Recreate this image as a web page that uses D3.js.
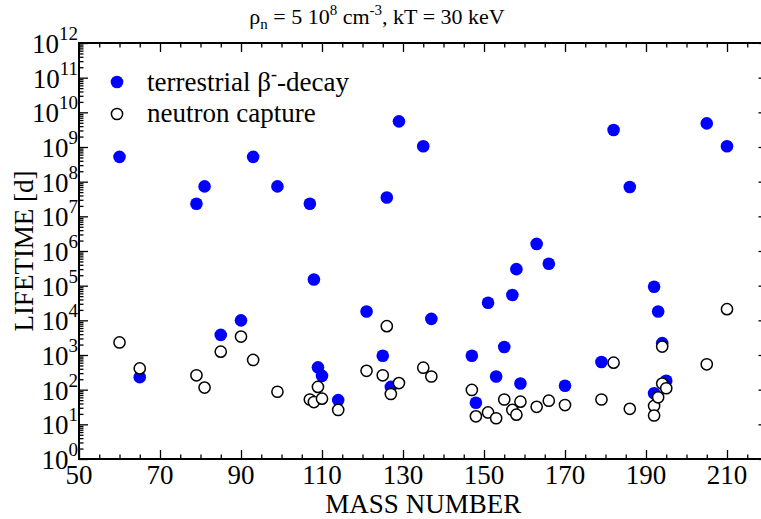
<!DOCTYPE html>
<html>
<head>
<meta charset="utf-8">
<script src="https://cdn.jsdelivr.net/npm/d3@7"></script>
<style>
  body { margin: 0; background: #fff; }
  svg { display: block; font-family: "Liberation Serif", "DejaVu Serif", serif; }
</style>
</head>
<body>
<div id="chart"></div>
<script>
// terrestrial beta- decay lifetimes [d]
var betaMass = [60, 65, 79, 81, 85, 90, 93, 99, 107, 108, 109, 110, 114, 121, 125, 126, 127, 129, 135, 137,
  147, 148, 151, 153, 155, 157, 158, 159, 163, 166, 170, 179, 182, 186, 192, 192, 193, 194, 195, 205, 210];
var betaLife = [5.2e8, 2.3e2, 2.3e7, 7.3e7, 3.8e3, 1.0e4, 5.2e8, 7.3e7, 2.3e7, 1.5e5, 4.4e2, 2.5e2, 50, 1.8e4, 9.5e2, 3.5e7, 1.2e2, 5.5e9, 1.05e9, 1.1e4,
  9.5e2, 42, 3.2e4, 2.4e2, 1.7e3, 5.4e4, 3.0e5, 1.5e2, 1.6e6, 4.3e5, 1.3e2, 6.3e2, 3.1e9, 7.0e7, 9.3e4, 79, 1.8e4, 2.2e3, 1.8e2, 4.8e9, 1.05e9];

// neutron capture lifetimes [d]
var capMass = [60, 65, 79, 81, 85, 90, 93, 99, 107, 108, 109, 110, 114, 121, 125, 126, 127, 129, 135, 137,
  147, 148, 151, 153, 155, 157, 158, 159, 163, 166, 170, 179, 182, 186, 192, 192, 193, 194, 195, 194, 205, 210];
var capLife = [2.3e3, 4.1e2, 2.6e2, 1.15e2, 1.25e3, 3.4e3, 7.2e2, 87, 52, 44, 1.2e2, 55, 26, 3.5e2, 2.6e2, 6.8e3, 75, 1.55e2, 4.3e2, 2.4e2,
  98, 17, 22, 15, 52, 26, 19, 45, 32, 48, 36, 52, 6.0e2, 28, 34, 18, 60, 1.5e2, 1.1e2, 1.75e3, 5.4e2, 2.1e4];

var xMajor = [50, 70, 90, 110, 130, 150, 170, 190, 210];
var decades = d3.range(0, 13);

var width = 761, height = 519;
var margin = {top: 43, left: 79, bottom: 60};

var svg = d3.select("#chart").append("svg")
  .attr("width", width)
  .attr("height", height);

var x = d3.scaleLinear().domain([50, 220]).range([margin.left, margin.left + 170 * 4.05]);
var y = d3.scaleLog().domain([1, 1e12]).range([height - margin.bottom, margin.top]);

var x0 = x.range()[0], x1 = x.range()[1];
var y0 = y.range()[0], y1 = y.range()[1];

var xMinor = d3.range(50, 221, 5).filter(function(v) { return (v - 50) % 20 !== 0; });
var yMinor = [];
decades.slice(0, 12).forEach(function(n) {
  for (var k = 2; k < 10; k++) yMinor.push(k * Math.pow(10, n));
});

function tickAxis(axis, tr) {
  var g = svg.append("g").attr("transform", tr).call(axis);
  g.select(".domain").remove();
  g.selectAll("line").attr("stroke", "#000").attr("stroke-width", 1.3);
  g.selectAll("text").remove();
  return g;
}

// inward ticks on all four sides
tickAxis(d3.axisBottom(x).tickValues(xMajor).tickSize(-9), "translate(0," + y0 + ")");
tickAxis(d3.axisBottom(x).tickValues(xMinor).tickSize(-4.5), "translate(0," + y0 + ")");
tickAxis(d3.axisTop(x).tickValues(xMajor).tickSize(-9), "translate(0," + y1 + ")");
tickAxis(d3.axisTop(x).tickValues(xMinor).tickSize(-4.5), "translate(0," + y1 + ")");
tickAxis(d3.axisLeft(y).tickValues(decades.map(function(n) { return Math.pow(10, n); })).tickSize(-9), "translate(" + x0 + ",0)");
tickAxis(d3.axisLeft(y).tickValues(yMinor).tickSize(-4.5), "translate(" + x0 + ",0)");
tickAxis(d3.axisRight(y).tickValues(decades.map(function(n) { return Math.pow(10, n); })).tickSize(-9), "translate(" + x1 + ",0)");
tickAxis(d3.axisRight(y).tickValues(yMinor).tickSize(-4.5), "translate(" + x1 + ",0)");

// frame
svg.append("rect")
  .attr("x", x0).attr("y", y1)
  .attr("width", x1 - x0).attr("height", y0 - y1)
  .attr("fill", "none").attr("stroke", "#000").attr("stroke-width", 2);

// x tick labels
svg.selectAll(".xlab")
  .data(xMajor)
  .enter().append("text")
  .attr("class", "xlab")
  .attr("x", function(d) { return x(d); })
  .attr("y", y0 + 25)
  .attr("text-anchor", "middle")
  .attr("font-size", 27)
  .text(function(d) { return d; });

// y tick labels 10^n
var ylab = svg.selectAll(".ylab")
  .data(decades)
  .enter().append("text")
  .attr("class", "ylab")
  .attr("x", x0 - 1)
  .attr("y", function(d) { return y(Math.pow(10, d)) + 10; })
  .attr("text-anchor", "end")
  .attr("font-size", 27);
ylab.append("tspan").text("10");
ylab.append("tspan").attr("dy", -13).attr("font-size", 19).text(function(d) { return d; });

// axis titles
svg.append("text")
  .attr("x", (x0 + x1) / 2)
  .attr("y", height - 6)
  .attr("text-anchor", "middle")
  .attr("font-size", 27)
  .text("MASS NUMBER");

svg.append("text")
  .attr("transform", "translate(33," + (y0 + y1) / 2 + ") rotate(-90)")
  .attr("text-anchor", "middle")
  .attr("font-size", 27)
  .text("LIFETIME [d]");

// title
var title = svg.append("text")
  .attr("x", 377)
  .attr("y", 24)
  .attr("text-anchor", "middle")
  .attr("font-size", 22);
title.append("tspan").text("\u03c1");
title.append("tspan").attr("dy", 5).attr("font-size", 15).text("n");
title.append("tspan").attr("dy", -5).text(" = 5 10");
title.append("tspan").attr("dy", -9).attr("font-size", 15).text("8");
title.append("tspan").attr("dy", 9).text(" cm");
title.append("tspan").attr("dy", -9).attr("font-size", 15).text("-3");
title.append("tspan").attr("dy", 9).text(", kT = 30 keV");

// points
var beta = betaMass.map(function(m, i) { return {m: m, t: betaLife[i]}; });
var cap = capMass.map(function(m, i) { return {m: m, t: capLife[i]}; });

svg.selectAll(".beta")
  .data(beta)
  .enter().append("circle")
  .attr("class", "beta")
  .attr("cx", function(d) { return x(d.m); })
  .attr("cy", function(d) { return y(d.t); })
  .attr("r", 6.3)
  .attr("fill", "#0000ff");

svg.selectAll(".cap")
  .data(cap)
  .enter().append("circle")
  .attr("class", "cap")
  .attr("cx", function(d) { return x(d.m); })
  .attr("cy", function(d) { return y(d.t); })
  .attr("r", 5.6)
  .attr("fill", "#fff")
  .attr("stroke", "#000")
  .attr("stroke-width", 1.5);

// legend
var legend = svg.append("g");
legend.append("circle").attr("cx", 117).attr("cy", 82).attr("r", 6.3).attr("fill", "#0000ff");
legend.append("circle").attr("cx", 117).attr("cy", 114).attr("r", 5.6)
  .attr("fill", "#fff").attr("stroke", "#000").attr("stroke-width", 1.5);

var l1 = legend.append("text").attr("x", 147).attr("y", 91).attr("font-size", 27);
l1.append("tspan").text("terrestrial \u03b2");
l1.append("tspan").attr("dy", -11).attr("font-size", 18).text("-");
l1.append("tspan").attr("dy", 11).text("-decay");

legend.append("text").attr("x", 147).attr("y", 122).attr("font-size", 27).text("neutron capture");
</script>
</body>
</html>
